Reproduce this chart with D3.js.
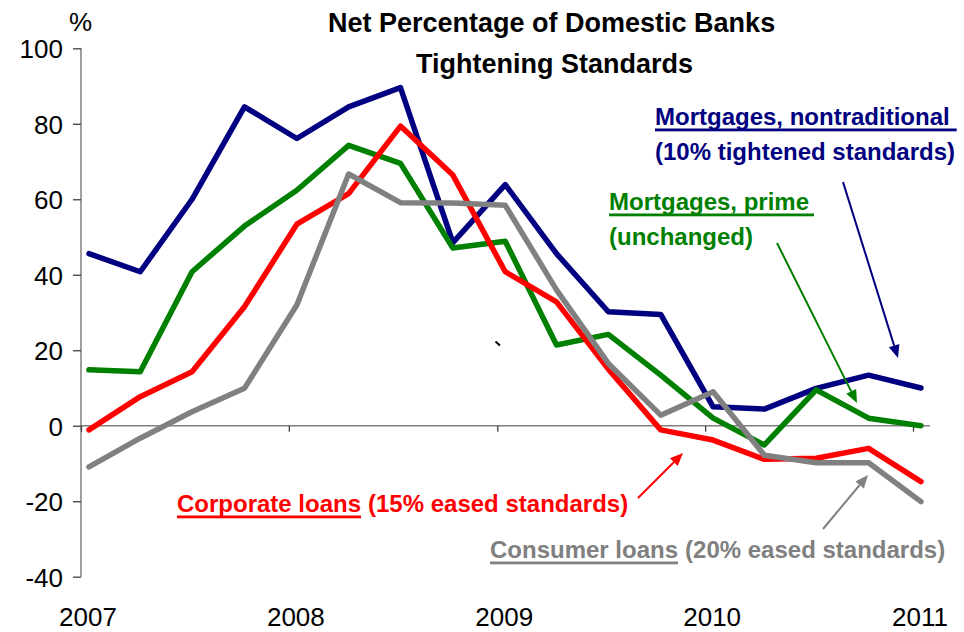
<!DOCTYPE html>
<html>
<head>
<meta charset="utf-8">
<script src="https://cdn.jsdelivr.net/npm/d3@7/dist/d3.min.js"></script>
<style>
  html, body { margin: 0; padding: 0; background: #fff; }
  svg { display: block; font-family: "Liberation Sans", Arial, sans-serif; }
</style>
</head>
<body>
<svg id="chart" width="964" height="632"></svg>
<script>
// ---- data ----
const dates = ["2007-01-15","2007-04-15","2007-07-15","2007-10-15",
               "2008-01-15","2008-04-15","2008-07-15","2008-10-15",
               "2009-01-15","2009-04-15","2009-07-15","2009-10-15",
               "2010-01-15","2010-04-15","2010-07-15","2010-10-15",
               "2011-01-15"];
const mortgagesNontraditional = [45.6, 40.8, 60.0, 84.5, 76.1, 84.5, 89.6, 48.5, 63.9, 45.6, 30.2, 29.5, 5.0, 4.4, 9.9, 13.4, 10.0];
const mortgagesPrime          = [14.8, 14.3, 40.8, 52.9, 62.4, 74.3, 69.5, 47.1, 48.9, 21.4, 24.2, 13.4, 2.0, -5.1, 9.5, 2.0, 0.0];
const corporateLoans          = [-1.1, 7.7, 14.3, 31.5, 53.4, 61.5, 79.4, 66.4, 40.8, 32.8, 15.0, -1.1, -3.8, -8.9, -8.6, -6.0, -14.8];
const consumerLoans           = [-10.9, -3.3, 3.7, 9.9, 32.0, 66.7, 59.1, 59.0, 58.4, 36.0, 16.5, 2.8, 9.0, -7.8, -9.8, -9.8, -20.1];
const yTicks = [-40, -20, 0, 20, 40, 60, 80, 100];
const xTickYears = ["2007", "2008", "2009", "2010", "2011"];
const seriesNames = ["Mortgages, nontraditional", "Mortgages, prime", "Corporate loans", "Consumer loans"];
const seriesNotes = ["(10% tightened standards)", "(unchanged)", "(15% eased standards)", "(20% eased standards)"];
const titleLines = ["Net Percentage of Domestic Banks", "Tightening Standards"];

const colors = { blue: "#000080", green: "#008000", red: "#ff0000", gray: "#808080" };

const svg = d3.select("#chart");
const parse = d3.timeParse("%Y-%m-%d");
const yearDate = y => new Date(+y, 0, 1);

const x = d3.scaleTime()
  .domain([yearDate("2007"), yearDate("2011")])
  .range([81, 913]);
const y = d3.scaleLinear().domain([-40, 100]).range([576.7, 48.3]);

// ---- axes ----
const axisColor = "#808080";
// y axis
const yAxis = svg.append("g").attr("transform", "translate(81,0)")
  .call(d3.axisLeft(y).tickValues(yTicks).tickSize(8).tickPadding(10).tickFormat(d => String(d)));
yAxis.select(".domain").attr("stroke", axisColor).attr("stroke-width", 1.5).attr("d", `M0,${y(-40)}V${y(100)}`);
yAxis.selectAll(".tick line").attr("stroke", "#404040").attr("stroke-width", 1.3);
yAxis.selectAll(".tick text").attr("font-size", 26).attr("fill", "#000")
  .attr("font-family", "'Liberation Sans', Arial, sans-serif").attr("dy", "0.36em");

// x axis at zero
const xAxis = svg.append("g").attr("transform", `translate(0,${y(0)})`)
  .call(d3.axisBottom(x).tickValues(xTickYears.map(yearDate)).tickSize(6).tickFormat(""));
xAxis.select(".domain").attr("stroke", axisColor).attr("stroke-width", 1.5).attr("d", `M81,0H930`);
xAxis.selectAll(".tick line").attr("stroke", "#404040").attr("stroke-width", 1.3);

// year labels at the bottom
svg.append("g").selectAll("text").data(xTickYears).join("text")
  .attr("x", d => x(yearDate(d)) + 7)
  .attr("y", 626)
  .attr("text-anchor", "middle")
  .attr("font-size", 26)
  .attr("fill", "#000")
  .text(d => d);

// % unit
svg.append("text").attr("x", 69).attr("y", 31).attr("font-size", 26).attr("fill", "#000").text("%");

// ---- title ----
svg.append("text").attr("x", 328).attr("y", 32).attr("font-size", 27).attr("font-weight", "bold")
  .attr("fill", "#000").text(titleLines[0]);
svg.append("text").attr("x", 416).attr("y", 73).attr("font-size", 27).attr("font-weight", "bold")
  .attr("fill", "#000").text(titleLines[1]);

// ---- lines ----
const series = [
  { values: mortgagesNontraditional, color: colors.blue },
  { values: mortgagesPrime, color: colors.green },
  { values: corporateLoans, color: colors.red },
  { values: consumerLoans, color: colors.gray }
];
const line = d3.line().x((d, i) => x(parse(dates[i]))).y(d => y(d));
svg.append("g").selectAll("path").data(series).join("path")
  .attr("d", d => line(d.values))
  .attr("fill", "none")
  .attr("stroke", d => d.color)
  .attr("stroke-width", 5.5)
  .attr("stroke-linejoin", "round")
  .attr("stroke-linecap", "round");

// stray mark in the original
svg.append("path").attr("d", "M495.5,341.5 L500,345.5").attr("stroke", "#000").attr("stroke-width", 2);

// ---- annotations ----
function label(xp, yp, name, note, color, twoLines, noteGap, underlineExtra) {
  const g = svg.append("g").attr("font-size", 24).attr("font-weight", "bold").attr("fill", color);
  const t1 = g.append("text").attr("x", xp).attr("y", yp).text(name);
  const w = t1.node().getComputedTextLength();
  g.append("rect").attr("x", xp).attr("y", yp + 3.5).attr("width", w + (underlineExtra || 0)).attr("height", 2.8).attr("fill", color);
  if (twoLines) {
    g.append("text").attr("x", xp).attr("y", yp + noteGap).text(note);
  } else {
    g.append("text").attr("x", xp + w + 7).attr("y", yp).text(note);
  }
}
label(655, 125, seriesNames[0], seriesNotes[0], colors.blue, true, 35, 7);
label(609, 210, seriesNames[1], seriesNotes[1], colors.green, true, 35, 5);
label(177, 512, seriesNames[2], seriesNotes[2], colors.red, false);
label(490, 558, seriesNames[3], seriesNotes[3], colors.gray, false);

// ---- arrows ----
function arrow(x1, y1, x2, y2, color) {
  const ang = Math.atan2(y2 - y1, x2 - x1);
  const L = 13, W = 5.5;
  const bx = x2 - L * Math.cos(ang), by = y2 - L * Math.sin(ang);
  svg.append("line").attr("x1", x1).attr("y1", y1).attr("x2", bx).attr("y2", by)
    .attr("stroke", color).attr("stroke-width", 2);
  const px = -Math.sin(ang) * W, py = Math.cos(ang) * W;
  svg.append("path")
    .attr("d", `M${x2},${y2}L${bx + px},${by + py}L${bx - px},${by - py}Z`)
    .attr("fill", color);
}
arrow(843, 182, 898, 358, colors.blue);
arrow(777, 243, 857, 403, colors.green);
arrow(638, 498, 683, 453, colors.red);
arrow(823, 529, 868, 475, colors.gray);
</script>
</body>
</html>
